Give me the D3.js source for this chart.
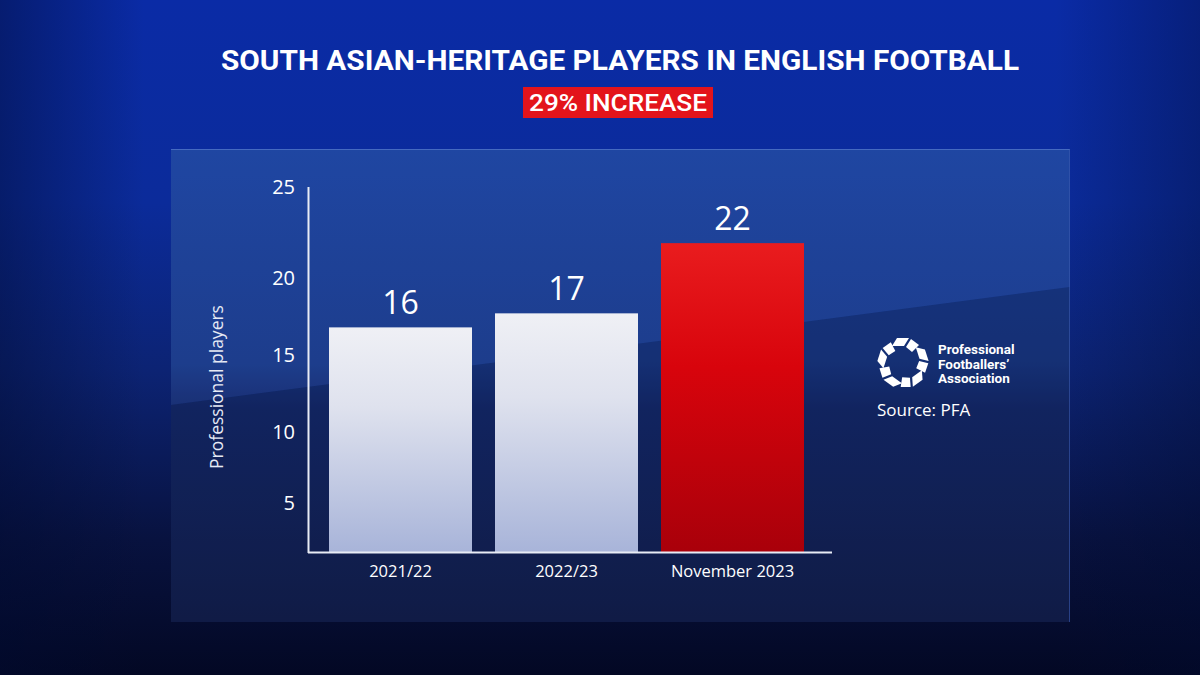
<!DOCTYPE html>
<html><head><meta charset="utf-8">
<script src="https://cdn.jsdelivr.net/npm/d3@7"></script>
<style>html,body{margin:0;padding:0;background:#06113a;}svg{display:block;}</style>
</head><body>
<svg id="c" width="1200" height="675"></svg>
<script>
const categories = ["2021/22", "2022/23", "November 2023"];
const values = [16, 17, 22];
const barKinds = ["white", "white", "red"];
const tickValues = [5, 10, 15, 20, 25];
const titleText = "SOUTH ASIAN-HERITAGE PLAYERS IN ENGLISH FOOTBALL";
const badgeText = "29% INCREASE";
const yTitle = "Professional players";
const logoLines = ["Professional", "Footballers\u2019", "Association"];
const sourceText = "Source: PFA";

const svg = d3.select("#c");
const defs = svg.append("defs");

// Background gradient
const bg = defs.append("linearGradient").attr("id","bg").attr("x1",0).attr("y1",0).attr("x2",0).attr("y2",1);
bg.append("stop").attr("offset","0%").attr("stop-color","#0a2ba6");
bg.append("stop").attr("offset","30%").attr("stop-color","#0b2b9a");
bg.append("stop").attr("offset","55%").attr("stop-color","#0c2373");
bg.append("stop").attr("offset","80%").attr("stop-color","#08123f");
bg.append("stop").attr("offset","100%").attr("stop-color","#030824");
svg.append("rect").attr("width",1200).attr("height",675).attr("fill","url(#bg)");
const vig = defs.append("linearGradient").attr("id","vig").attr("x1",0).attr("x2",1).attr("y1",0).attr("y2",0);
vig.append("stop").attr("offset","0%").attr("stop-color","#000a30").attr("stop-opacity",0.45);
vig.append("stop").attr("offset","12%").attr("stop-color","#000a30").attr("stop-opacity",0);
vig.append("stop").attr("offset","88%").attr("stop-color","#000a30").attr("stop-opacity",0);
vig.append("stop").attr("offset","100%").attr("stop-color","#000a30").attr("stop-opacity",0.35);
svg.append("rect").attr("width",1200).attr("height",675).attr("fill","url(#vig)");

// Panel
const P = {x:171, y:149, w:899, h:473};
const pg = defs.append("linearGradient").attr("id","pg").attr("x1",0).attr("y1",0).attr("x2",0).attr("y2",1);
pg.append("stop").attr("offset","0%").attr("stop-color","#1a419e");
pg.append("stop").attr("offset","45%").attr("stop-color","#183886");
pg.append("stop").attr("offset","55%").attr("stop-color","#13286a");
pg.append("stop").attr("offset","100%").attr("stop-color","#121d48");
svg.append("rect").attr("x",P.x).attr("y",P.y).attr("width",P.w).attr("height",P.h).attr("fill","url(#pg)");
svg.append("path")
  .attr("d",`M${P.x},${P.y} L${P.x+P.w},${P.y} L${P.x+P.w},287 L${P.x},405 Z`)
  .attr("fill","#5a7fd0").attr("opacity",0.09);
svg.append("path")
  .attr("d",`M${P.x},405 L${P.x+P.w},287 L${P.x+P.w},${P.y+P.h} L${P.x},${P.y+P.h} Z`)
  .attr("fill","#0a1640").attr("opacity",0.25);
svg.append("line").attr("x1",P.x).attr("y1",P.y+0.5).attr("x2",P.x+P.w).attr("y2",P.y+0.5)
  .attr("stroke","#4f73c8").attr("stroke-width",1).attr("opacity",0.8);
svg.append("line").attr("x1",P.x+P.w-0.5).attr("y1",P.y).attr("x2",P.x+P.w-0.5).attr("y2",P.y+P.h)
  .attr("stroke","#3a5ab0").attr("stroke-width",1).attr("opacity",0.6);

// Title
svg.append("text").attr("x",620).attr("y",70).attr("text-anchor","middle")
  .attr("font-family","Roboto, 'Open Sans', sans-serif").attr("font-weight",700)
  .attr("font-size",27).attr("fill","#fff")
  .attr("textLength",798).attr("lengthAdjust","spacingAndGlyphs").text(titleText);
svg.append("rect").attr("x",523).attr("y",87).attr("width",190).attr("height",31).attr("fill","#e3141b");
svg.append("text").attr("x",618).attr("y",111).attr("text-anchor","middle")
  .attr("font-family","Roboto, 'Open Sans', sans-serif").attr("font-weight",500)
  .attr("font-size",24).attr("fill","#fff")
  .attr("textLength",178).attr("lengthAdjust","spacingAndGlyphs").text(badgeText);

// Scales
const x = d3.scaleBand().domain(categories).range([329, 804]).paddingInner(0.1386).paddingOuter(0);
const y = d3.scaleLinear().domain([0, 26]).range([552, 187]);
// the printed tick labels sit at uneven heights in the source graphic
const yTick = d3.scaleLinear().domain(tickValues).range([503, 432, 355, 278, 187]);

// Bar gradients
const gw = defs.append("linearGradient").attr("id","gw").attr("x1",0).attr("y1",0).attr("x2",0).attr("y2",1);
gw.append("stop").attr("offset","0%").attr("stop-color","#eff0f5");
gw.append("stop").attr("offset","35%").attr("stop-color","#dfe2ee");
gw.append("stop").attr("offset","100%").attr("stop-color","#a8b4d9");
const gr = defs.append("linearGradient").attr("id","gr").attr("x1",0).attr("y1",0).attr("x2",0).attr("y2",1);
gr.append("stop").attr("offset","0%").attr("stop-color","#e91c1e");
gr.append("stop").attr("offset","40%").attr("stop-color","#d8040c");
gr.append("stop").attr("offset","100%").attr("stop-color","#a9000a");

const g = svg.append("g");
g.selectAll("rect.bar").data(values).join("rect").attr("class","bar")
  .attr("x",(d,i)=>x(categories[i])).attr("width",x.bandwidth())
  .attr("y",d=>y(d)).attr("height",d=>y(0)-y(d))
  .attr("fill",(d,i)=>barKinds[i]==="red"?"url(#gr)":"url(#gw)");

g.selectAll("text.val").data(values).join("text").attr("class","val")
  .attr("x",(d,i)=>x(categories[i])+x.bandwidth()/2).attr("y",d=>y(d)-13)
  .attr("text-anchor","middle").attr("font-family","'Open Sans', Lato, sans-serif")
  .attr("font-size",32).attr("fill","#fff").text(d=>d);

// Axes
const xAxis = d3.axisBottom(x).tickSize(0).tickPadding(13);
const xg = svg.append("g").attr("transform","translate(0,552)").call(xAxis);
xg.select(".domain").remove();
xg.selectAll("text").attr("font-family","'Open Sans', Lato, sans-serif").attr("font-size",16.5).attr("fill","#fff");
svg.append("line").attr("x1",308).attr("x2",832).attr("y1",552.5).attr("y2",552.5).attr("stroke","#e8ecf5").attr("stroke-width",2);
svg.append("line").attr("x1",308.5).attr("x2",308.5).attr("y1",187).attr("y2",553).attr("stroke","#e8ecf5").attr("stroke-width",2);

const yAxis = d3.axisLeft(yTick).tickValues(tickValues).tickSize(0).tickPadding(0);
const yg = svg.append("g").attr("transform","translate(295,0)").call(yAxis);
yg.select(".domain").remove();
yg.selectAll("text").attr("font-family","'Open Sans', Lato, sans-serif").attr("font-size",20).attr("fill","#fff");

svg.append("text").attr("transform","translate(223,387) rotate(-90)").attr("text-anchor","middle")
  .attr("font-family","'Open Sans', Lato, sans-serif").attr("font-size",17.5).attr("fill","#e6eaf5").text(yTitle);

// Logo
const lg = svg.append("g").attr("transform","translate(903,363)");
for (let k=0;k<5;k++){
  const a = k*72;
  const gk = lg.append("g").attr("transform",`rotate(${a})`);
  gk.append("path").attr("d","M-6,-25 L6,-25 L1,-17 L-11,-17 Z").attr("fill","#fff");
  gk.append("path").attr("d","M8,-24 L16,-18 L9,-11 L3,-16 Z").attr("fill","#fff");
}
svg.selectAll("text.logo").data(logoLines).join("text").attr("class","logo")
  .attr("x",938).attr("y",(d,i)=>354+i*14.5)
  .attr("font-family","Roboto, 'Open Sans', sans-serif").attr("font-weight",700)
  .attr("font-size",13.5).attr("fill","#fff").text(d=>d);
svg.append("text").attr("x",877).attr("y",416)
  .attr("font-family","'Open Sans', Lato, sans-serif").attr("font-size",17).attr("fill","#fff").text(sourceText);
</script>
</body></html>
